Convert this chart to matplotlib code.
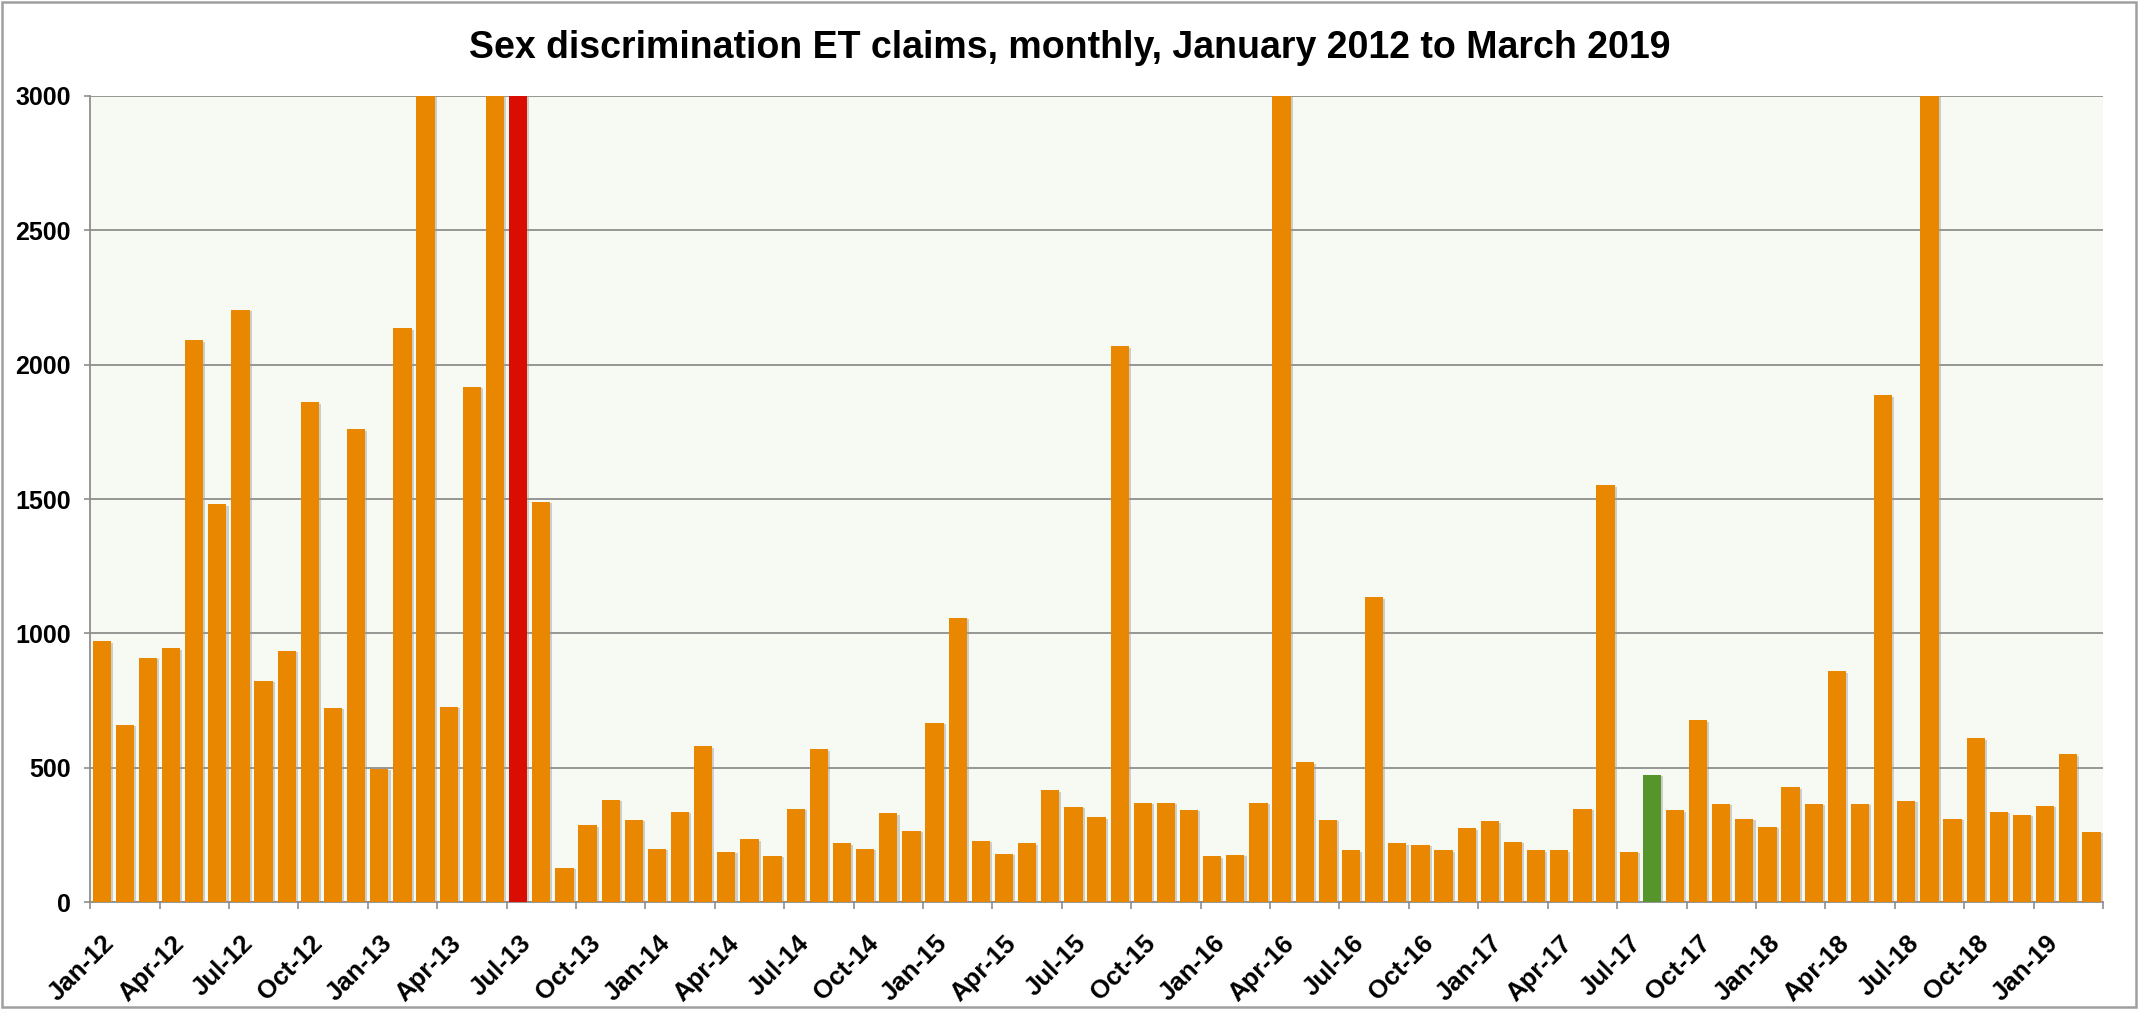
import matplotlib
matplotlib.use("Agg")
import matplotlib.pyplot as plt
import matplotlib.patheffects as pe
from matplotlib.patches import Rectangle
import matplotlib.transforms as mtransforms
import numpy as np

# ---- data (monthly claims, Jan 2012 .. Mar 2019); bars at 3000 run off the top of the axis ----
months = []
for yr in range(12, 20):
    for m in ["Jan", "Feb", "Mar", "Apr", "May", "Jun", "Jul", "Aug", "Sep", "Oct", "Nov", "Dec"]:
        months.append(f"{m}-{yr}")
months = months[:87]

claims = [
    970, 660, 910, 945, 2090, 1480, 2205, 824, 935, 1860, 722, 1760,      # 2012
    495, 2135, 3000, 727, 1917, 3000, 3000, 1490, 127, 285, 381, 305,     # 2013
    198, 336, 580, 188, 234, 173, 346, 569, 219, 198, 330, 264,           # 2014
    666, 1057, 229, 180, 219, 416, 355, 316, 2069, 370, 370, 344,         # 2015
    170, 176, 370, 3000, 520, 305, 193, 1134, 219, 214, 193, 275,         # 2016
    300, 224, 193, 193, 346, 1551, 188, 473, 341, 676, 366, 310,          # 2017
    280, 427, 366, 859, 366, 1886, 376, 3000, 310, 610, 336, 325,         # 2018
    359, 550, 262,                                                        # 2019
]

highlight_red = "Jul-13"
highlight_green = "Aug-17"

title = "Sex discrimination ET claims, monthly, January 2012 to March 2019"
yticks = [0, 500, 1000, 1500, 2000, 2500, 3000]

# ---- styling ----
ORANGE = "#EA8700"
RED = "#D90D02"
GREEN = "#55952C"
GRID = "#8E8E8E"
BG = "#F7FAF3"

plt.rcParams["font.family"] = ["Liberation Sans", "DejaVu Sans"]

fig = plt.figure(figsize=(21.4, 10.09), dpi=100)
ax = fig.add_axes([0.0421, 0.1060, 0.9406, 0.7989])
ax.set_facecolor(BG)

colors = []
for lab in months:
    if lab == highlight_red:
        colors.append(RED)
    elif lab == highlight_green:
        colors.append(GREEN)
    else:
        colors.append(ORANGE)

x = np.arange(len(months))
bars = ax.bar(x, claims, width=0.79, color=colors, zorder=3, linewidth=0)
for b in bars:
    b.set_path_effects([pe.SimplePatchShadow(offset=(1.5, -1), shadow_rgbFace="#9a9a9a", alpha=0.45),
                        pe.Normal()])

ax.set_xlim(-0.5, len(months) - 0.5)
ax.set_ylim(0, 3000)
ax.set_yticks(yticks)
ax.set_yticklabels([str(v) for v in yticks], fontsize=18, fontweight="bold")
ax.yaxis.grid(True, color=GRID, linewidth=1.3, zorder=0)
ax.set_axisbelow(True)
ax.tick_params(axis="y", length=4, width=1.2, color=GRID, pad=10)

# x: labels at every third month, tick marks on group boundaries
ax.set_xticks(x[::3])
ax.set_xticklabels(months[::3], fontsize=18.5, fontweight="bold", rotation=45,
                   ha="right", va="center", rotation_mode="anchor")
ax.tick_params(axis="x", which="major", length=0, pad=27)
ax.set_xticks(np.arange(-0.5, len(months), 3), minor=True)
ax.tick_params(axis="x", which="minor", length=5, width=1.2, color=GRID)
offset = mtransforms.ScaledTranslation(9 / 100, 0, fig.dpi_scale_trans)
for lbl in ax.get_xticklabels():
    lbl.set_transform(lbl.get_transform() + offset)

for s in ["top", "right"]:
    ax.spines[s].set_visible(False)
for s in ["left", "bottom"]:
    ax.spines[s].set_color(GRID)
    ax.spines[s].set_linewidth(1.3)

fig.text(0.5, 0.952, title, ha="center", va="center", fontsize=27, fontweight="bold")

fig.patches.append(Rectangle((0.001, 0.002), 0.997, 0.996, transform=fig.transFigure,
                             fill=False, edgecolor="#A0A0A0", linewidth=1.8))

fig.savefig("out.png", dpi=100)
